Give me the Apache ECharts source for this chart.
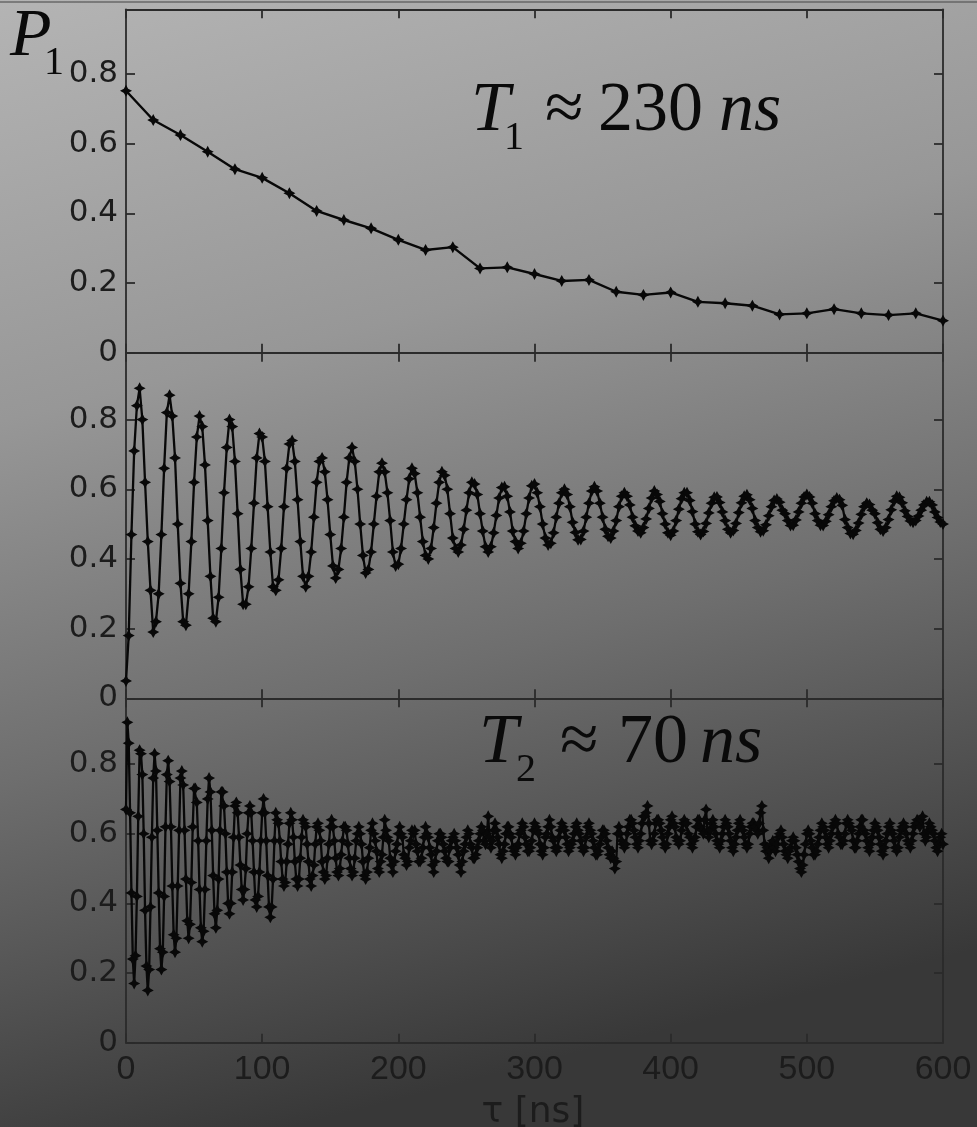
<!DOCTYPE html>
<html>
<head>
<meta charset="utf-8">
<script src="https://cdn.jsdelivr.net/npm/echarts@6/dist/echarts.min.js"></script>
<style>
  html, body { margin: 0; padding: 0; background: #777; }
  #chart { width: 977px; height: 1127px; }
</style>
</head>
<body>
<div id="chart"></div>
<script>
// Energy relaxation: excited-state population P1 vs delay tau, sampled every 20 ns
const relaxStepNs = 20;
const relaxP1 = [
  0.752, 0.668, 0.625, 0.577, 0.527, 0.502, 0.458, 0.407, 0.381, 0.357, 0.324,
  0.295, 0.303, 0.242, 0.245, 0.226, 0.206, 0.209, 0.175, 0.166, 0.173,
  0.146, 0.142, 0.135, 0.110, 0.113, 0.125, 0.113, 0.108, 0.113, 0.092
];

// Rabi oscillations, sampled every 2 ns
const rabiStepNs = 2;
const rabiP1 = [
  0.05, 0.18, 0.47, 0.71, 0.84, 0.89, 0.80, 0.62, 0.45, 0.31, 0.19,
  0.22, 0.30, 0.47, 0.66, 0.82, 0.87, 0.81, 0.69, 0.50, 0.33, 0.22,
  0.21, 0.30, 0.45, 0.62, 0.75, 0.81, 0.78, 0.67, 0.51, 0.35, 0.23,
  0.22, 0.29, 0.43, 0.59, 0.72, 0.80, 0.78, 0.68, 0.53, 0.37, 0.27,
  0.27, 0.32, 0.43, 0.56, 0.69, 0.76, 0.75, 0.68, 0.55, 0.42, 0.32,
  0.31, 0.34, 0.43, 0.55, 0.66, 0.73, 0.74, 0.68, 0.57, 0.45, 0.35,
  0.32, 0.35, 0.42, 0.52, 0.62, 0.68, 0.69, 0.65, 0.57, 0.47, 0.38,
  0.345, 0.37, 0.43, 0.52, 0.62, 0.69, 0.72, 0.68, 0.60, 0.50, 0.41,
  0.36, 0.37, 0.42, 0.50, 0.58, 0.65, 0.675, 0.65, 0.59, 0.51, 0.42,
  0.38, 0.385, 0.43, 0.50, 0.57, 0.63, 0.66, 0.645, 0.59, 0.52, 0.45,
  0.41, 0.40, 0.43, 0.49, 0.56, 0.62, 0.65, 0.64, 0.60, 0.53, 0.46,
  0.43, 0.42, 0.44, 0.485, 0.54, 0.59, 0.62, 0.615, 0.585, 0.53, 0.48,
  0.435, 0.42, 0.435, 0.475, 0.525, 0.575, 0.605, 0.607, 0.58, 0.535, 0.48,
  0.45, 0.43, 0.445, 0.48, 0.53, 0.575, 0.61, 0.615, 0.59, 0.55, 0.50,
  0.46, 0.44, 0.445, 0.475, 0.52, 0.56, 0.59, 0.60, 0.585, 0.55, 0.505,
  0.476, 0.455, 0.456, 0.48, 0.52, 0.56, 0.595, 0.607, 0.595, 0.56, 0.52,
  0.485, 0.465, 0.46, 0.48, 0.51, 0.55, 0.58, 0.59, 0.58, 0.555, 0.52,
  0.495, 0.48, 0.475, 0.49, 0.515, 0.545, 0.575, 0.595, 0.585, 0.565, 0.53,
  0.50, 0.475, 0.468, 0.48, 0.51, 0.543, 0.573, 0.59, 0.59, 0.568, 0.536,
  0.50, 0.478, 0.47, 0.479, 0.502, 0.532, 0.56, 0.577, 0.578, 0.562, 0.535,
  0.51, 0.485, 0.475, 0.482, 0.502, 0.533, 0.561, 0.58, 0.584, 0.57, 0.545,
  0.51, 0.49, 0.478, 0.481, 0.498, 0.524, 0.55, 0.568, 0.572, 0.563, 0.54,
  0.53, 0.51, 0.496, 0.497, 0.512, 0.535, 0.56, 0.578, 0.585, 0.578, 0.56,
  0.53, 0.51, 0.497, 0.496, 0.508, 0.527, 0.55, 0.567, 0.575, 0.57, 0.554,
  0.513, 0.49, 0.473, 0.471, 0.482, 0.503, 0.528, 0.55, 0.56, 0.556, 0.54,
  0.53, 0.504, 0.485, 0.48, 0.49, 0.513, 0.541, 0.566, 0.58, 0.577, 0.561,
  0.538, 0.522, 0.509, 0.505, 0.51, 0.523, 0.54, 0.555, 0.564, 0.564, 0.555,
  0.535, 0.519, 0.506, 0.50
];

// Ramsey fringes, sampled every 1 ns
const ramseyStepNs = 1;
const ramseyP1 = [
  0.67,
  0.92, 0.86, 0.66, 0.43, 0.24, 0.17, 0.25, 0.42, 0.65, 0.84,
  0.83, 0.77, 0.60, 0.38, 0.22, 0.15, 0.21, 0.39, 0.59, 0.76,
  0.83, 0.78, 0.61, 0.43, 0.27, 0.21, 0.26, 0.42, 0.62, 0.77,
  0.81, 0.75, 0.62, 0.45, 0.31, 0.26, 0.30, 0.45, 0.61, 0.76,
  0.78, 0.74, 0.61, 0.47, 0.35, 0.30, 0.34, 0.46, 0.62, 0.73,
  0.73, 0.69, 0.58, 0.44, 0.33, 0.29, 0.32, 0.44, 0.58, 0.70,
  0.76, 0.72, 0.61, 0.48, 0.37, 0.33, 0.38, 0.47, 0.61, 0.72,
  0.72, 0.68, 0.60, 0.49, 0.40, 0.37, 0.40, 0.49, 0.59, 0.68,
  0.69, 0.66, 0.59, 0.51, 0.44, 0.41, 0.44, 0.50, 0.60, 0.66,
  0.68, 0.66, 0.58, 0.49, 0.41, 0.39, 0.42, 0.49, 0.58, 0.66,
  0.70, 0.66, 0.58, 0.48, 0.39, 0.36, 0.39, 0.47, 0.58, 0.66,
  0.64, 0.63, 0.58, 0.52, 0.47, 0.45, 0.46, 0.52, 0.57, 0.63,
  0.66, 0.64, 0.59, 0.52, 0.47, 0.45, 0.47, 0.53, 0.59, 0.64,
  0.63, 0.62, 0.57, 0.52, 0.47, 0.45, 0.48, 0.51, 0.57, 0.62,
  0.63, 0.61, 0.58, 0.52, 0.49, 0.47, 0.48, 0.53, 0.57, 0.62,
  0.64, 0.62, 0.58, 0.53, 0.49, 0.48, 0.50, 0.54, 0.58, 0.62,
  0.62, 0.61, 0.57, 0.53, 0.50, 0.48, 0.49, 0.53, 0.58, 0.60,
  0.62, 0.60, 0.57, 0.52, 0.48, 0.47, 0.49, 0.53, 0.56, 0.61,
  0.63, 0.60, 0.58, 0.55, 0.50, 0.49, 0.52, 0.54, 0.59, 0.64,
  0.61, 0.59, 0.58, 0.53, 0.51, 0.49, 0.52, 0.55, 0.57, 0.60,
  0.62, 0.60, 0.59, 0.54, 0.53, 0.51, 0.52, 0.56, 0.58, 0.61,
  0.60, 0.61, 0.57, 0.55, 0.52, 0.52, 0.53, 0.56, 0.59, 0.62,
  0.60, 0.59, 0.56, 0.54, 0.51, 0.49, 0.52, 0.55, 0.58, 0.60,
  0.60, 0.59, 0.57, 0.55, 0.53, 0.52, 0.52, 0.56, 0.58, 0.59,
  0.60, 0.58, 0.56, 0.54, 0.51, 0.49, 0.52, 0.55, 0.57, 0.59,
  0.61, 0.60, 0.57, 0.56, 0.53, 0.53, 0.54, 0.56, 0.58, 0.60,
  0.62, 0.61, 0.58, 0.57, 0.60, 0.65, 0.59, 0.56, 0.58, 0.61,
  0.63, 0.61, 0.59, 0.57, 0.54, 0.53, 0.55, 0.57, 0.60, 0.62,
  0.62, 0.60, 0.59, 0.56, 0.55, 0.54, 0.56, 0.57, 0.60, 0.61,
  0.63, 0.62, 0.59, 0.57, 0.55, 0.55, 0.56, 0.58, 0.61, 0.63,
  0.62, 0.61, 0.60, 0.57, 0.55, 0.54, 0.56, 0.59, 0.60, 0.62,
  0.64, 0.62, 0.59, 0.58, 0.56, 0.55, 0.56, 0.59, 0.61, 0.63,
  0.62, 0.61, 0.59, 0.57, 0.55, 0.56, 0.57, 0.58, 0.60, 0.62,
  0.63, 0.61, 0.60, 0.58, 0.56, 0.55, 0.56, 0.59, 0.62, 0.63,
  0.61, 0.60, 0.58, 0.56, 0.54, 0.54, 0.55, 0.57, 0.59, 0.61,
  0.61, 0.60, 0.58, 0.56, 0.54, 0.53, 0.55, 0.53, 0.50, 0.52,
  0.60, 0.62, 0.60, 0.58, 0.57, 0.56, 0.57, 0.60, 0.62, 0.64,
  0.64, 0.63, 0.61, 0.59, 0.57, 0.56, 0.58, 0.60, 0.63, 0.65,
  0.65, 0.66, 0.68, 0.63, 0.58, 0.57, 0.58, 0.60, 0.63, 0.64,
  0.64, 0.63, 0.61, 0.59, 0.57, 0.56, 0.57, 0.60, 0.62, 0.64,
  0.65, 0.63, 0.62, 0.59, 0.58, 0.57, 0.58, 0.61, 0.63, 0.64,
  0.63, 0.63, 0.60, 0.59, 0.57, 0.56, 0.58, 0.59, 0.62, 0.64,
  0.64, 0.62, 0.61, 0.60, 0.64, 0.67, 0.61, 0.59, 0.61, 0.63,
  0.64, 0.62, 0.60, 0.58, 0.57, 0.56, 0.58, 0.60, 0.62, 0.64,
  0.63, 0.62, 0.60, 0.58, 0.56, 0.55, 0.57, 0.59, 0.61, 0.63,
  0.64, 0.62, 0.61, 0.59, 0.57, 0.56, 0.57, 0.60, 0.62, 0.63,
  0.63, 0.62, 0.61, 0.60, 0.63, 0.66, 0.68, 0.61, 0.57, 0.55,
  0.56, 0.53, 0.55, 0.57, 0.58, 0.56, 0.55, 0.57, 0.59, 0.60,
  0.61, 0.59, 0.57, 0.55, 0.54, 0.53, 0.55, 0.56, 0.58, 0.59,
  0.58, 0.56, 0.54, 0.52, 0.50, 0.49, 0.51, 0.54, 0.57, 0.60,
  0.61, 0.60, 0.58, 0.56, 0.54, 0.54, 0.55, 0.57, 0.59, 0.61,
  0.63, 0.62, 0.61, 0.59, 0.57, 0.56, 0.58, 0.60, 0.62, 0.63,
  0.64, 0.63, 0.60, 0.59, 0.57, 0.57, 0.58, 0.60, 0.63, 0.64,
  0.63, 0.62, 0.61, 0.58, 0.56, 0.56, 0.58, 0.60, 0.62, 0.64,
  0.64, 0.61, 0.60, 0.58, 0.56, 0.55, 0.57, 0.59, 0.61, 0.63,
  0.62, 0.61, 0.59, 0.57, 0.55, 0.54, 0.56, 0.58, 0.60, 0.62,
  0.63, 0.61, 0.60, 0.58, 0.56, 0.55, 0.56, 0.59, 0.61, 0.62,
  0.63, 0.62, 0.60, 0.58, 0.57, 0.56, 0.58, 0.60, 0.62, 0.63,
  0.64, 0.63, 0.62, 0.64, 0.65, 0.60, 0.58, 0.59, 0.61, 0.63,
  0.62, 0.61, 0.60, 0.58, 0.56, 0.55, 0.57, 0.59, 0.60, 0.57
];

// Axis ticks
const tauTicks = [0, 100, 200, 300, 400, 500, 600];
const p1Ticks = [0, 0.2, 0.4, 0.6, 0.8];

// Panel labels
const relaxLabel = { sym: 'T', sub: '1', approx: '\u2248', value: '230', unit: 'ns' };
const ramseyLabel = { sym: 'T', sub: '2', approx: '\u2248', value: '70', unit: 'ns' };
const yName = { sym: 'P', sub: '1' };
const xName = '\u03c4 [ns]';

function toPairs(values, step) {
  return values.map((v, i) => [i * step, v]);
}

const frameColor = '#2b2b2b';
const labelColor = '#1c1c1c';
const traceColor = '#080808';
const starPath = 'path://M0,-10 L3.5,-3.5 L10,0 L3.5,3.5 L0,10 L-3.5,3.5 L-10,0 L-3.5,-3.5 Z';

// Panel frames (pixel rows), all three share the same P1 scale
const panels = [
  { top: 9.3, height: 343.4, yMax: 0.986 },
  { top: 352.7, height: 345.6, yMax: 0.992 },
  { top: 698.3, height: 344.4, yMax: 0.989 }
];

const isTick = v => p1Ticks.some(t => Math.abs(t - v) < 1e-6);

const grids = [], xAxes = [], yAxes = [];
panels.forEach((p, i) => {
  grids.push({ left: 126, width: 817, top: p.top, height: p.height, containLabel: false });
  const last = i === panels.length - 1;
  const xBase = {
    type: 'value', gridIndex: i, min: 0, max: 600, interval: 100,
    axisLine: { show: true, onZero: false, lineStyle: { color: frameColor, width: 1.8 } },
    axisTick: { show: true, inside: true, length: 9, lineStyle: { color: frameColor, width: 1.8 } },
    splitLine: { show: false }
  };
  xAxes.push(Object.assign({}, xBase, {
    position: 'bottom',
    axisLabel: {
      show: last, margin: 10, color: labelColor, fontSize: 34,
      fontFamily: 'Liberation Sans, Arial, sans-serif',
      formatter: v => tauTicks.includes(v) ? String(v) : ''
    }
  }));
  xAxes.push(Object.assign({}, xBase, { position: 'top', axisLabel: { show: false } }));
  const yBase = {
    type: 'value', gridIndex: i, min: 0, max: p.yMax, interval: 0.2,
    axisLine: { show: true, onZero: false, lineStyle: { color: frameColor, width: 1.8 } },
    axisTick: { show: true, inside: true, length: 9, lineStyle: { color: frameColor, width: 1.8 } },
    splitLine: { show: false }
  };
  yAxes.push(Object.assign({}, yBase, {
    position: 'left',
    axisLabel: {
      show: true, margin: 8, color: labelColor, fontSize: 31,
      fontFamily: 'DejaVu Sans, sans-serif',
      showMaxLabel: false,
      formatter: v => isTick(v) ? String(Math.round(v * 5) / 5) : ''
    }
  }));
  yAxes.push(Object.assign({}, yBase, { position: 'right', axisLabel: { show: false } }));
});

function trace(values, step, panelIndex, size, width) {
  return {
    type: 'line',
    xAxisIndex: panelIndex * 2,
    yAxisIndex: panelIndex * 2,
    data: toPairs(values, step),
    symbol: starPath,
    symbolSize: size,
    showSymbol: true,
    showAllSymbol: true,
    lineStyle: { color: traceColor, width: width },
    itemStyle: { color: traceColor },
    silent: true,
    animation: false
  };
}

const serif = '"Liberation Serif", "Times New Roman", serif';
function mathLabel(l, baseY, xs) {
  // baseY: text baseline; the serif 'middle' line sits ~0.34 em above it
  const big = 70, small = 40;
  return [
    { type: 'text', x: xs[0], y: baseY - 0.3375 * big, style: { text: l.sym, font: 'italic ' + big + 'px ' + serif, fill: '#0a0a0a', verticalAlign: 'middle' } },
    { type: 'text', x: xs[1], y: baseY + 17 - 0.3375 * small, style: { text: l.sub, font: small + 'px ' + serif, fill: '#0a0a0a', verticalAlign: 'middle' } },
    { type: 'text', x: xs[2], y: baseY - 0.3375 * big, style: { text: l.approx, font: big + 'px ' + serif, fill: '#0a0a0a', verticalAlign: 'middle' } },
    { type: 'text', x: xs[3], y: baseY - 0.3375 * big, style: { text: l.value, font: big + 'px ' + serif, fill: '#0a0a0a', verticalAlign: 'middle' } },
    { type: 'text', x: xs[4], y: baseY - 0.3375 * big, style: { text: l.unit, font: 'italic ' + big + 'px ' + serif, fill: '#0a0a0a', verticalAlign: 'middle' } }
  ];
}

const chart = echarts.init(document.getElementById('chart'), null, { renderer: 'canvas' });
chart.setOption({
  animation: false,
  backgroundColor: new echarts.graphic.LinearGradient(0, 0, 0.3, 1, [
    { offset: 0, color: '#b4b4b4' },
    { offset: 0.35, color: '#979797' },
    { offset: 0.65, color: '#6e6e6e' },
    { offset: 1, color: '#383838' }
  ]),
  grid: grids,
  xAxis: xAxes,
  yAxis: yAxes,
  series: [
    trace(relaxP1, relaxStepNs, 0, 12, 2.4),
    trace(rabiP1, rabiStepNs, 1, 12, 2.3),
    trace(ramseyP1, ramseyStepNs, 2, 12, 2.3)
  ],
  graphic: [
    { type: 'line', shape: { x1: 0, y1: 2, x2: 977, y2: 2 }, style: { stroke: 'rgba(85,85,85,0.6)', lineWidth: 2 } },
    { type: 'text', x: 10, y: 60 - 0.3375 * 68, style: { text: yName.sym, font: 'italic 68px ' + serif, fill: '#0a0a0a', verticalAlign: 'middle' } },
    { type: 'text', x: 44, y: 77 - 0.3375 * 40, style: { text: yName.sub, font: '40px ' + serif, fill: '#0a0a0a', verticalAlign: 'middle' } },
    ...mathLabel(relaxLabel, 135, [471, 504, 545, 598, 719]),
    ...mathLabel(ramseyLabel, 767, [479, 516, 560, 618, 700]),
    { type: 'text', x: 533, y: 1113, style: { text: xName, font: '36px "DejaVu Sans", sans-serif', fill: labelColor, align: 'center', verticalAlign: 'middle' } }
  ]
});
</script>
</body>
</html>
